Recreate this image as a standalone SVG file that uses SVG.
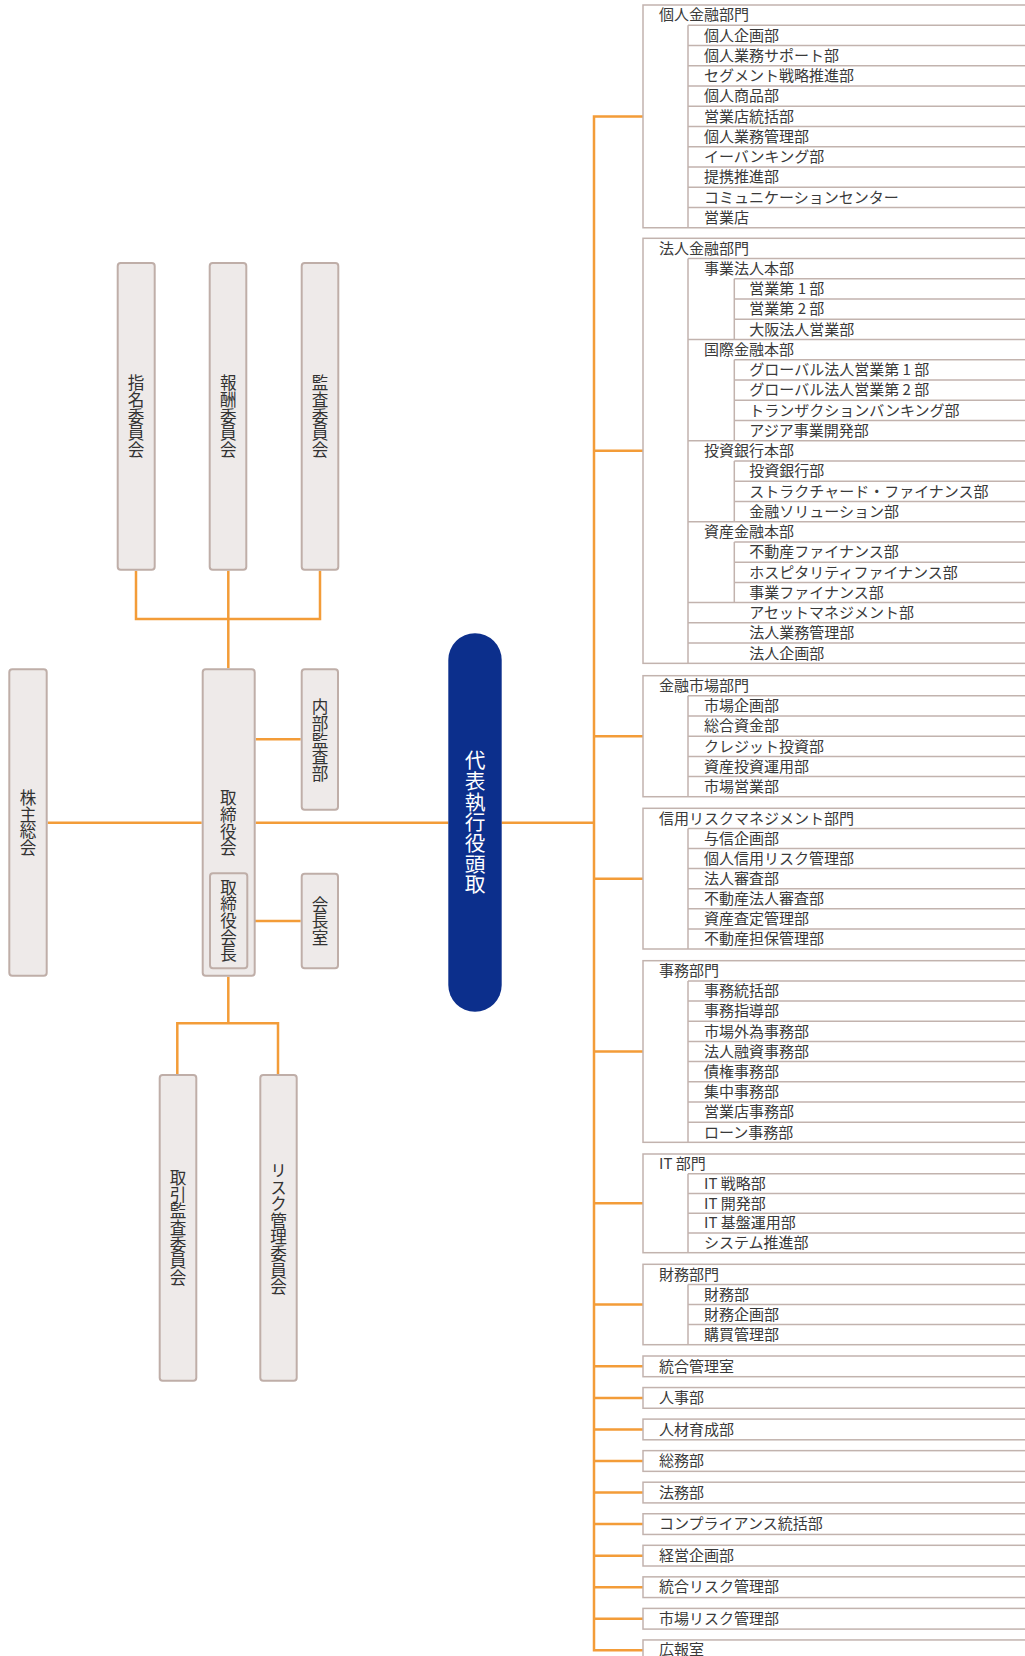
<svg xmlns="http://www.w3.org/2000/svg" width="1025" height="1656" viewBox="0 0 1025 1656">
<style>
.n{fill:#eeeae9;stroke:#bfaea8;stroke-width:2}
.v{font-family:"Noto Sans CJK JP",sans-serif;font-size:16.6px;fill:#333;writing-mode:vertical-rl;text-anchor:middle}
.pv{font-family:"Noto Sans CJK JP",sans-serif;font-size:20.7px;fill:#fff;writing-mode:vertical-rl;text-anchor:middle}
.c{fill:none;stroke:#f39c38;stroke-width:2.5}
.b{fill:#fff;stroke:#c2b3ae;stroke-width:1.5}
.l{fill:none;stroke:#c2b3ae;stroke-width:1.5}
.t{font-family:"Noto Sans CJK JP",sans-serif;font-size:15px;fill:#3a3a3a}
</style>
<rect width="1025" height="1656" fill="#fff"/>
<g id="connectors">
<path class="c" d="M136,570.7 V619 H320 V570.7 M228.3,570.7 V668.3"/>
<path class="c" d="M228.3,976.7 V1023.3 M177.3,1074 V1023.3 H278 V1074"/>
<path class="c" d="M47.7,822.7 H201.7 M255.7,822.7 H448.3 M501.7,822.7 H594 M255.7,739.3 H300.7 M248.3,921 H300.7"/>
<path class="c" d="M643,116.4 H594 V1650.3 H643 M594,450.8 H643 M594,736.2 H643 M594,878.7 H643 M594,1051.5 H643 M594,1203.3 H643 M594,1304.5 H643 M594,1366.35 H643 M594,1397.9 H643 M594,1429.45 H643 M594,1461 H643 M594,1492.55 H643 M594,1524.1 H643 M594,1555.65 H643 M594,1587.2 H643 M594,1618.75 H643"/>
</g>
<g id="n-shimei"><rect class="n" x="117.7" y="263" width="37" height="306.7" rx="3"/><text class="v" x="136" y="416.3">指名委員会</text></g>
<g id="n-hoshu"><rect class="n" x="209.7" y="263" width="36.6" height="306.7" rx="3"/><text class="v" x="228.3" y="416.3">報酬委員会</text></g>
<g id="n-kansa"><rect class="n" x="301.7" y="263" width="36.6" height="306.7" rx="3"/><text class="v" x="320" y="416.3">監査委員会</text></g>
<g id="n-kabunushi"><rect class="n" x="9.3" y="669.3" width="37.4" height="306.4" rx="3"/><text class="v" x="28" y="822.7">株主総会</text></g>
<g id="n-torishimari"><rect class="n" x="202.7" y="669.3" width="52" height="306.4" rx="3"/><text class="v" x="228.3" y="823">取締役会</text>
<g id="n-kaicho"><rect class="n" x="210" y="873.3" width="37.3" height="95" rx="3"/><text class="v" x="228.6" y="920.6">取締役会長</text></g></g>
<g id="n-naibu"><rect class="n" x="301.7" y="669.3" width="36.3" height="140.4" rx="3"/><text class="v" x="320" y="740.3">内部監査部</text></g>
<g id="n-kaichoshitsu"><rect class="n" x="301.7" y="873.7" width="36.3" height="94.6" rx="3"/><text class="v" x="320" y="921">会長室</text></g>
<g id="n-torihiki"><rect class="n" x="159.7" y="1075" width="36.6" height="305.7" rx="3"/><text class="v" x="178" y="1227.7">取引監査委員会</text></g>
<g id="n-risk"><rect class="n" x="260.3" y="1075" width="36.4" height="305.7" rx="3"/><text class="v" x="278.5" y="1228.8">リスク管理委員会</text></g>
<g id="n-ceo"><rect x="448.3" y="633.3" width="53.4" height="378.4" rx="26.7" fill="#0c2f8c"/><text class="pv" x="475" y="822.5">代表執行役頭取</text></g>

<g id="n-kojin">
<rect class="b" x="643" y="5" width="400" height="222.75"/>
<path class="l" d="M688,25.25 V227.75 M688,25.25 H1030 M688,45.5 H1030 M688,65.75 H1030 M688,86 H1030 M688,106.25 H1030 M688,126.5 H1030 M688,146.75 H1030 M688,167 H1030 M688,187.25 H1030 M688,207.5 H1030"/>
<text class="t" x="659" y="20.4">個人金融部門</text>
<text class="t" x="704" y="40.65">個人企画部</text>
<text class="t" x="704" y="60.9">個人業務サポート部</text>
<text class="t" x="704" y="81.15">セグメント戦略推進部</text>
<text class="t" x="704" y="101.4">個人商品部</text>
<text class="t" x="704" y="121.65">営業店統括部</text>
<text class="t" x="704" y="141.9">個人業務管理部</text>
<text class="t" x="704" y="162.15">イーバンキング部</text>
<text class="t" x="704" y="182.4">提携推進部</text>
<text class="t" x="704" y="202.65">コミュニケーションセンター</text>
<text class="t" x="704" y="222.9">営業店</text>
</g>

<g id="n-hojin">
<rect class="b" x="643" y="238.3" width="400" height="425.04"/>
<path class="l" d="M688,258.54 V663.34 M734.3,278.78 V339.5 M734.3,359.74 V440.7 M734.3,460.94 V521.66 M734.3,541.9 V602.62 M688,258.54 H1030 M734.3,278.78 H1030 M734.3,299.02 H1030 M734.3,319.26 H1030 M688,339.5 H1030 M734.3,359.74 H1030 M734.3,379.98 H1030 M734.3,400.22 H1030 M734.3,420.46 H1030 M688,440.7 H1030 M734.3,460.94 H1030 M734.3,481.18 H1030 M734.3,501.42 H1030 M688,521.66 H1030 M734.3,541.9 H1030 M734.3,562.14 H1030 M734.3,582.38 H1030 M688,602.62 H1030 M688,622.86 H1030 M688,643.1 H1030"/>
<text class="t" x="659" y="253.7">法人金融部門</text>
<text class="t" x="704" y="273.94">事業法人本部</text>
<text class="t" x="749.3" y="294.18">営業第 1 部</text>
<text class="t" x="749.3" y="314.42">営業第 2 部</text>
<text class="t" x="749.3" y="334.66">大阪法人営業部</text>
<text class="t" x="704" y="354.9">国際金融本部</text>
<text class="t" x="749.3" y="375.14">グローバル法人営業第 1 部</text>
<text class="t" x="749.3" y="395.38">グローバル法人営業第 2 部</text>
<text class="t" x="749.3" y="415.62">トランザクションバンキング部</text>
<text class="t" x="749.3" y="435.86">アジア事業開発部</text>
<text class="t" x="704" y="456.1">投資銀行本部</text>
<text class="t" x="749.3" y="476.34">投資銀行部</text>
<text class="t" x="749.3" y="496.58">ストラクチャード・ファイナンス部</text>
<text class="t" x="749.3" y="516.82">金融ソリューション部</text>
<text class="t" x="704" y="537.06">資産金融本部</text>
<text class="t" x="749.3" y="557.3">不動産ファイナンス部</text>
<text class="t" x="749.3" y="577.54">ホスピタリティファイナンス部</text>
<text class="t" x="749.3" y="597.78">事業ファイナンス部</text>
<text class="t" x="749.3" y="618.02">アセットマネジメント部</text>
<text class="t" x="749.3" y="638.26">法人業務管理部</text>
<text class="t" x="749.3" y="658.5">法人企画部</text>
</g>

<g id="n-shijo">
<rect class="b" x="643" y="675.7" width="400" height="121.02"/>
<path class="l" d="M688,695.87 V796.72 M688,695.87 H1030 M688,716.04 H1030 M688,736.21 H1030 M688,756.38 H1030 M688,776.55 H1030"/>
<text class="t" x="659" y="691.1">金融市場部門</text>
<text class="t" x="704" y="711.27">市場企画部</text>
<text class="t" x="704" y="731.44">総合資金部</text>
<text class="t" x="704" y="751.61">クレジット投資部</text>
<text class="t" x="704" y="771.78">資産投資運用部</text>
<text class="t" x="704" y="791.95">市場営業部</text>
</g>

<g id="n-shinyo">
<rect class="b" x="643" y="808.3" width="400" height="140.7"/>
<path class="l" d="M688,828.4 V949 M688,828.4 H1030 M688,848.5 H1030 M688,868.6 H1030 M688,888.7 H1030 M688,908.8 H1030 M688,928.9 H1030"/>
<text class="t" x="659" y="823.7">信用リスクマネジメント部門</text>
<text class="t" x="704" y="843.8">与信企画部</text>
<text class="t" x="704" y="863.9">個人信用リスク管理部</text>
<text class="t" x="704" y="884">法人審査部</text>
<text class="t" x="704" y="904.1">不動産法人審査部</text>
<text class="t" x="704" y="924.2">資産査定管理部</text>
<text class="t" x="704" y="944.3">不動産担保管理部</text>
</g>

<g id="n-jimu">
<rect class="b" x="643" y="960.7" width="400" height="181.62"/>
<path class="l" d="M688,980.88 V1142.32 M688,980.88 H1030 M688,1001.06 H1030 M688,1021.24 H1030 M688,1041.42 H1030 M688,1061.6 H1030 M688,1081.78 H1030 M688,1101.96 H1030 M688,1122.14 H1030"/>
<text class="t" x="659" y="976.1">事務部門</text>
<text class="t" x="704" y="996.28">事務統括部</text>
<text class="t" x="704" y="1016.46">事務指導部</text>
<text class="t" x="704" y="1036.64">市場外為事務部</text>
<text class="t" x="704" y="1056.82">法人融資事務部</text>
<text class="t" x="704" y="1077">債権事務部</text>
<text class="t" x="704" y="1097.18">集中事務部</text>
<text class="t" x="704" y="1117.36">営業店事務部</text>
<text class="t" x="704" y="1137.54">ローン事務部</text>
</g>

<g id="n-it">
<rect class="b" x="643" y="1154" width="400" height="98.7"/>
<path class="l" d="M688,1173.74 V1252.7 M688,1173.74 H1030 M688,1193.48 H1030 M688,1213.22 H1030 M688,1232.96 H1030"/>
<text class="t" x="659" y="1169.2">IT 部門</text>
<text class="t" x="704" y="1188.94">IT 戦略部</text>
<text class="t" x="704" y="1208.68">IT 開発部</text>
<text class="t" x="704" y="1228.42">IT 基盤運用部</text>
<text class="t" x="704" y="1248.16">システム推進部</text>
</g>

<g id="n-zaimu">
<rect class="b" x="643" y="1264.3" width="400" height="80.4"/>
<path class="l" d="M688,1284.4 V1344.7 M688,1284.4 H1030 M688,1304.5 H1030 M688,1324.6 H1030"/>
<text class="t" x="659" y="1279.7">財務部門</text>
<text class="t" x="704" y="1299.8">財務部</text>
<text class="t" x="704" y="1319.9">財務企画部</text>
<text class="t" x="704" y="1340">購買管理部</text>
</g>

<g id="n-togo"><rect class="b" x="643" y="1356" width="400" height="20.7"/><text class="t" x="659" y="1371.6">統合管理室</text></g>
<g id="n-jinji"><rect class="b" x="643" y="1387.55" width="400" height="20.7"/><text class="t" x="659" y="1403.15">人事部</text></g>
<g id="n-jinzai"><rect class="b" x="643" y="1419.1" width="400" height="20.7"/><text class="t" x="659" y="1434.7">人材育成部</text></g>
<g id="n-somu"><rect class="b" x="643" y="1450.65" width="400" height="20.7"/><text class="t" x="659" y="1466.25">総務部</text></g>
<g id="n-homu"><rect class="b" x="643" y="1482.2" width="400" height="20.7"/><text class="t" x="659" y="1497.8">法務部</text></g>
<g id="n-comp"><rect class="b" x="643" y="1513.75" width="400" height="20.7"/><text class="t" x="659" y="1529.35">コンプライアンス統括部</text></g>
<g id="n-keiei"><rect class="b" x="643" y="1545.3" width="400" height="20.7"/><text class="t" x="659" y="1560.9">経営企画部</text></g>
<g id="n-togorisk"><rect class="b" x="643" y="1576.85" width="400" height="20.7"/><text class="t" x="659" y="1592.45">統合リスク管理部</text></g>
<g id="n-shijorisk"><rect class="b" x="643" y="1608.4" width="400" height="20.7"/><text class="t" x="659" y="1624">市場リスク管理部</text></g>
<g id="n-koho"><rect class="b" x="643" y="1639.95" width="400" height="20.7"/><text class="t" x="659" y="1655">広報室</text></g>
</svg>
